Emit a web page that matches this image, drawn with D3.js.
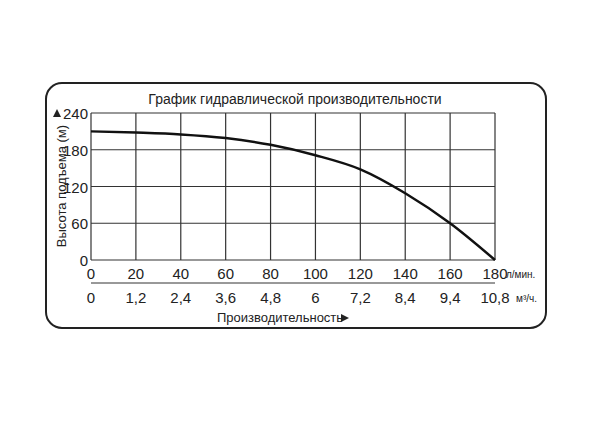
<!DOCTYPE html><html><head><meta charset="utf-8"><script src="https://cdn.jsdelivr.net/npm/d3@7"></script>
<style>body{margin:0;background:#fff}text{font-family:"Liberation Sans",Arial,sans-serif;fill:#222}</style></head><body><svg width="600" height="423"></svg><script>
const flowLmin=[0,20,40,60,80,100,120,140,160,180];
const flowM3Labels=["0","1,2","2,4","3,6","4,8","6","7,2","8,4","9,4","10,8"];
const headM=[210,208,205,199,188,171,148,109,60,0];
const yTicks=[0,60,120,180,240];
const svg=d3.select("svg");
const x=d3.scaleLinear().domain([0,180]).range([91,495]);
const y=d3.scaleLinear().domain([0,240]).range([260,113]);
svg.append("rect").attr("x",46).attr("y",83).attr("width",500).attr("height",245).attr("rx",16).attr("fill","none").attr("stroke","#222").attr("stroke-width",2);
svg.append("text").attr("x",295).attr("y",104).attr("text-anchor","middle").attr("font-size",14).text("График гидравлической производительности");
const g=svg.append("g");
g.selectAll(".v").data(flowLmin).join("line").attr("x1",d=>x(d)).attr("x2",d=>x(d)).attr("y1",y(240)).attr("y2",y(0)).attr("stroke","#333").attr("stroke-width",1.2);
g.selectAll(".h").data(yTicks).join("line").attr("y1",d=>y(d)).attr("y2",d=>y(d)).attr("x1",x(0)).attr("x2",x(180)).attr("stroke","#333").attr("stroke-width",1.2);
svg.selectAll(".yl").data(yTicks).join("text").attr("x",88).attr("y",d=>y(d)+6).attr("text-anchor","end").attr("font-size",15).text(d=>d);
svg.append("path").attr("d","M0,0L8,0L4,-8Z").attr("transform",`translate(${x(0)-38},${y(240)+4})`).attr("fill","#222");
svg.selectAll(".xl").data(flowLmin).join("text").attr("x",d=>x(d)).attr("y",279).attr("text-anchor","middle").attr("font-size",15).text(d=>d);
svg.append("line").attr("x1",x(0)).attr("x2",x(180)).attr("y1",283).attr("y2",283).attr("stroke","#333");
svg.selectAll(".xm").data(flowLmin).join("text").attr("x",d=>x(d)).attr("y",303).attr("text-anchor","middle").attr("font-size",15).text((d,i)=>flowM3Labels[i]);
svg.append("text").attr("x",506).attr("y",278).attr("font-size",10).text("л/мин.");
svg.append("text").attr("x",516).attr("y",302).attr("font-size",10).text("м³/ч.");
svg.append("text").attr("x",280).attr("y",322).attr("text-anchor","middle").attr("font-size",13).text("Производительность");
svg.append("path").attr("d","M0,-4L8,0L0,4Z").attr("transform",`translate(341,318)`).attr("fill","#222");
svg.append("text").attr("transform","translate(66,186) rotate(-90)").attr("text-anchor","middle").attr("font-size",13).text("Высота подъема (м)");
svg.append("path").datum(flowLmin.map((f,i)=>[f,headM[i]])).attr("d",d3.line().x(d=>x(d[0])).y(d=>y(d[1])).curve(d3.curveMonotoneX)).attr("fill","none").attr("stroke","#111").attr("stroke-width",2.5);
</script></body></html>
